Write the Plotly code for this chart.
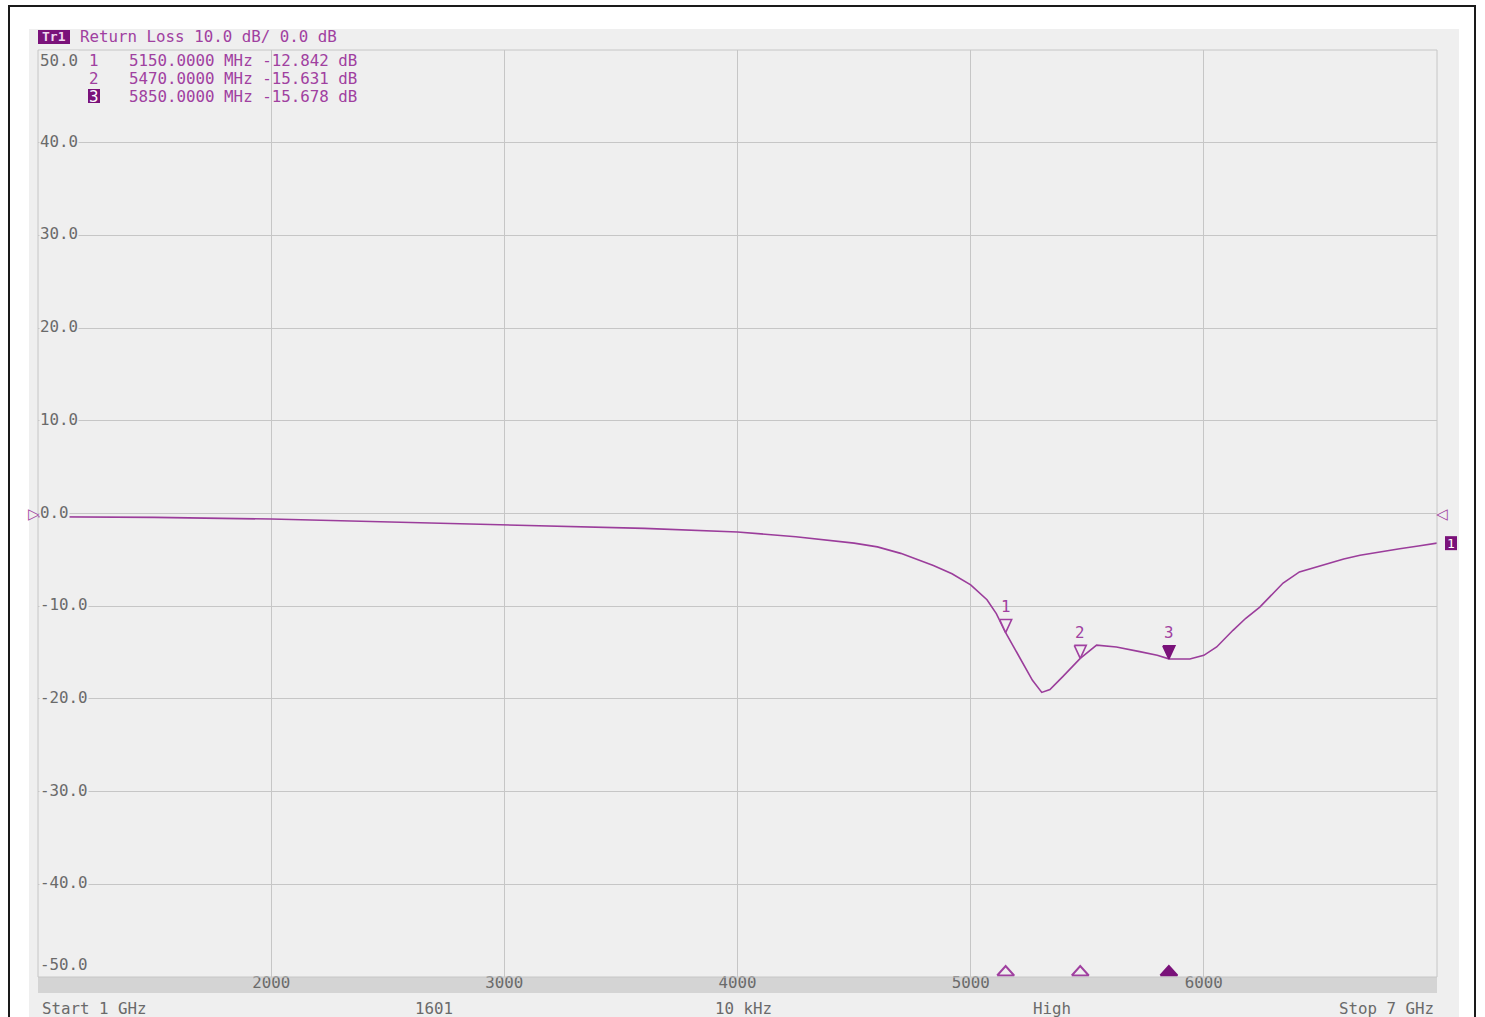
import plotly.graph_objects as go

# ---------------- data ----------------
freq_mhz = [1000, 1250, 1500, 2000, 2500, 3000, 3300, 3600, 4000, 4250, 4500, 4600, 4700,
            4840, 4920, 5000, 5070, 5110, 5150, 5210, 5265, 5305, 5340, 5395, 5470, 5540,
            5625, 5725, 5800, 5850, 5900, 5940, 6000, 6055, 6125, 6180, 6240, 6290, 6340,
            6410, 6500, 6600, 6670, 6760, 6840, 6920, 7000]
return_loss_db = [-0.35, -0.38, -0.42, -0.6, -0.9, -1.2, -1.4, -1.6, -2.0, -2.5, -3.2, -3.6, -4.3,
                  -5.6, -6.5, -7.7, -9.3, -10.8, -12.84, -15.5, -18.0, -19.3, -19.0, -17.6, -15.63, -14.2,
                  -14.4, -14.9, -15.3, -15.68, -15.7, -15.7, -15.3, -14.4, -12.6, -11.3, -10.1, -8.8, -7.5,
                  -6.3, -5.6, -4.9, -4.5, -4.1, -3.8, -3.5, -3.2]

marker_ids = ["1", "2", "3"]
marker_freq = [5150, 5470, 5850]
marker_val = [-12.842, -15.631, -15.678]
active_marker = "3"

x_tickvals = [2000, 3000, 4000, 5000, 6000]
y_tickvals = [50, 40, 30, 20, 10, 0, -10, -20, -30, -40, -50]

title_text = "Return Loss 10.0 dB/ 0.0 dB"
footer = [("Start 1 GHz", 40, "left"), ("1601", 434, "center"), ("10 kHz", 743, "center"),
          ("High", 1052, "center"), ("Stop 7 GHz", 1436, "right")]

# ---------------- style ----------------
W, H = 1485, 1017
L, R, T, B = 38, 1437, 50, 977
XMIN, XMAX, YMIN, YMAX = 1000, 7000, -50, 50
PANEL = "#efefef"
GRID = "#c6c6c6"
TRACE = "#9b3d9b"
TXT = "#a040a0"
DARK = "#7a127a"
GREY = "#6a6a6a"
MONO = "DejaVu Sans Mono"
FS = 15.8


def px(X):
    return (X - L) / (R - L)


def py(Y):
    return (B - Y) / (B - T)


mhz_per_px = (XMAX - XMIN) / (R - L)
db_per_px = (YMAX - YMIN) / (B - T)

fig = go.Figure()

fig.add_trace(go.Scatter(x=freq_mhz, y=return_loss_db, mode="lines",
                         line=dict(color=TRACE, width=1.6), hoverinfo="skip", showlegend=False))

annotations = []

# marker triangles on the trace (tip at the marker value) and at the bottom edge
for mid, f, v in zip(marker_ids, marker_freq, marker_val):
    dx = 6 * mhz_per_px
    h = 13 * db_per_px
    active = mid == active_marker
    fig.add_trace(go.Scatter(x=[f - dx, f + dx, f, f - dx], y=[v + h, v + h, v, v + h],
                             mode="lines", fill="toself",
                             fillcolor=DARK if active else PANEL,
                             line=dict(color=DARK if active else TXT, width=1.6),
                             hoverinfo="skip", showlegend=False))
    annotations.append(dict(x=f, y=v, xref="x", yref="y", text=mid, showarrow=False,
                            xanchor="center", yanchor="middle", yshift=26,
                            font=dict(family=MONO, size=FS, color=TXT)))
    dxb = 8.5 * mhz_per_px
    hb = 9.5 * db_per_px
    b0 = YMIN + 1.5 * db_per_px
    fig.add_trace(go.Scatter(x=[f - dxb, f + dxb, f, f - dxb], y=[b0, b0, b0 + hb, b0],
                             mode="lines", fill="toself",
                             fillcolor=DARK if active else PANEL,
                             line=dict(color=DARK if active else TXT, width=2),
                             hoverinfo="skip", showlegend=False))

shapes = [
    dict(type="rect", xref="paper", yref="paper", x0=px(29), x1=px(1459), y0=py(1045), y1=py(29),
         fillcolor=PANEL, line=dict(width=0), layer="below"),
    dict(type="rect", xref="paper", yref="paper", x0=px(38), x1=px(1437), y0=py(993), y1=py(977),
         fillcolor="#d4d4d4", line=dict(width=0), layer="below"),
    dict(type="rect", xref="paper", yref="paper", x0=0, x1=1, y0=0, y1=1,
         line=dict(color=GRID, width=1), layer="above"),
    dict(type="rect", xref="paper", yref="paper", x0=px(9), x1=px(1475), y0=py(1045), y1=py(6),
         line=dict(color="#1a1a1a", width=2), layer="above"),
    dict(type="rect", xref="paper", yref="paper", x0=px(38), x1=px(70), y0=py(44), y1=py(30),
         fillcolor=DARK, line=dict(width=0), layer="above"),
]

annotations.append(dict(x=px(54), y=py(37), xref="paper", yref="paper", text="<b>Tr1</b>",
                        showarrow=False, xanchor="center", yanchor="middle",
                        font=dict(family=MONO, size=13, color="#f0d8f0")))
annotations.append(dict(x=px(78), y=py(37), xref="paper", yref="paper", text=title_text,
                        showarrow=False, xanchor="left", yanchor="middle",
                        font=dict(family=MONO, size=FS, color=TXT)))

# marker readout
for i, (mid, f, v) in enumerate(zip(marker_ids, marker_freq, marker_val)):
    yy = 60 + 18 * i
    if mid == active_marker:
        shapes.append(dict(type="rect", xref="paper", yref="paper", x0=px(88), x1=px(100),
                           y0=py(yy + 7), y1=py(yy - 7), fillcolor=DARK, line=dict(width=0),
                           layer="above"))
        col = "#ffffff"
    else:
        col = TXT
    annotations.append(dict(x=px(94), y=py(yy), xref="paper", yref="paper", text=mid,
                            showarrow=False, xanchor="center", yanchor="middle",
                            font=dict(family=MONO, size=FS, color=col)))
    annotations.append(dict(x=px(127), y=py(yy), xref="paper", yref="paper",
                            text=f"{f:.4f} MHz {v:.3f} dB", showarrow=False,
                            xanchor="left", yanchor="middle",
                            font=dict(family=MONO, size=FS, color=TXT)))

# y tick labels drawn inside the plot with a background
for v in y_tickvals:
    if v == YMAX:
        ya, ys = "top", 0
    elif v == YMIN:
        ya, ys = "bottom", 2
    else:
        ya, ys = "middle", 1.5
    annotations.append(dict(x=0, y=v, xref="paper", yref="y", text=f"{v:.1f}", showarrow=False,
                            xanchor="left", yanchor=ya, yshift=ys, xshift=1, bgcolor=PANEL,
                            borderpad=0, font=dict(family=MONO, size=FS, color=GREY)))

# reference level triangles & trace end indicator
annotations.append(dict(x=px(34), y=0, xref="paper", yref="y", text="▷", showarrow=False,
                        xanchor="center", yanchor="middle",
                        font=dict(family="DejaVu Sans", size=15, color=TXT)))
annotations.append(dict(x=px(1442), y=0, xref="paper", yref="y", text="◁", showarrow=False,
                        xanchor="center", yanchor="middle",
                        font=dict(family="DejaVu Sans", size=15, color=TXT)))
shapes.append(dict(type="rect", xref="paper", yref="y", x0=px(1445), x1=px(1457),
                   y0=return_loss_db[-1] - 7 * db_per_px, y1=return_loss_db[-1] + 7 * db_per_px,
                   fillcolor=DARK, line=dict(width=0), layer="above"))
annotations.append(dict(x=px(1451), y=return_loss_db[-1], xref="paper", yref="y", text="1",
                        showarrow=False, xanchor="center", yanchor="middle",
                        font=dict(family=MONO, size=13, color="#ffffff")))

# footer
for txt, X, anc in footer:
    annotations.append(dict(x=px(X), y=py(1008), xref="paper", yref="paper", text=txt,
                            showarrow=False, xanchor=anc, yanchor="middle",
                            font=dict(family=MONO, size=FS, color=GREY)))

fig.update_layout(
    width=W, height=H,
    margin=dict(l=L, r=W - R, t=T, b=H - B, pad=0),
    paper_bgcolor="#ffffff", plot_bgcolor=PANEL,
    showlegend=False,
    shapes=shapes, annotations=annotations,
    xaxis=dict(range=[XMIN, XMAX], tickvals=x_tickvals, ticktext=[str(v) for v in x_tickvals],
               showgrid=True, gridcolor=GRID, gridwidth=1, zeroline=False,
               showline=False, ticks="", anchor="free", position=6 / (B - T),
               tickfont=dict(family=MONO, size=FS, color=GREY), fixedrange=True),
    yaxis=dict(range=[YMIN, YMAX], tickvals=y_tickvals, showticklabels=False,
               showgrid=True, gridcolor=GRID, gridwidth=1, zeroline=False,
               showline=False, ticks="", fixedrange=True),
)

fig.write_html("out.html", config={"displayModeBar": False},
               post_script="document.body.style.margin='0';")
